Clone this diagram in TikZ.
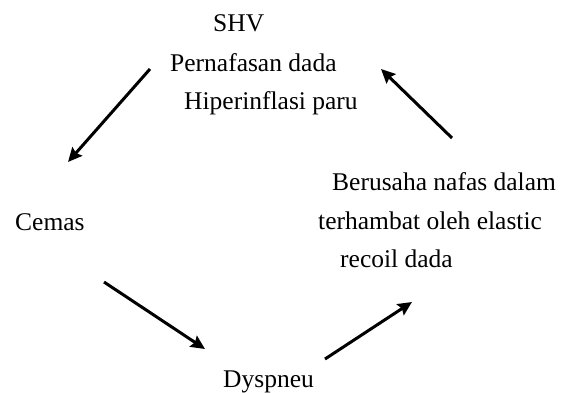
\documentclass[tikz,border=0pt]{standalone}
\usepackage{fontspec}
\setmainfont{Liberation Serif}
\usepackage{tikz}
\usetikzlibrary{arrows.meta}
\tikzset{
  teks/.style={anchor=base west, inner sep=0pt, font=\fontsize{25.5}{30}\selectfont},
  panah/.style={draw=black, line width=3pt, -{Stealth[length=14pt, width=13pt, inset=2pt]}}
}
\begin{document}
\begin{tikzpicture}[x=1pt, y=-1pt]
    \useasboundingbox (0,0) rectangle (571,392);
    % teks
    \node[teks] (shv) at (213,31) {SHV};
    \node[teks] (napas) at (170,71) {Pernafasan dada};
    \node[teks] (hiper) at (184,109) {Hiperinflasi paru};
    \node[teks] (cemas) at (15,230) {Cemas};
    \node[teks] (dyspneu) at (223,387) {Dyspneu};
    \node[teks] (usaha) at (332,190) {Berusaha nafas dalam};
    \node[teks] (hambat) at (318,229) {terhambat oleh elastic};
    \node[teks] (recoil) at (340,267) {recoil dada};
    % ujung panah
    \coordinate (a1) at (150,69);  \coordinate (b1) at (68,162);
    \coordinate (a2) at (104,282); \coordinate (b2) at (205,349);
    \coordinate (a3) at (325,359); \coordinate (b3) at (412,302);
    \coordinate (a4) at (452,138); \coordinate (b4) at (381,69);
    \draw[panah] (a1) -- (b1);
    \draw[panah] (a2) -- (b2);
    \draw[panah] (a3) -- (b3);
    \draw[panah] (a4) -- (b4);
  \end{tikzpicture}
\end{document}
